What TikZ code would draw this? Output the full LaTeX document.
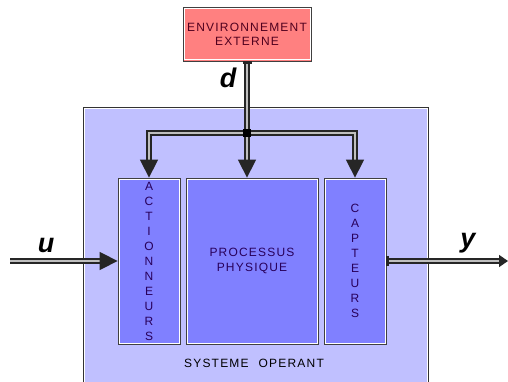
\documentclass[tikz,border=0pt]{standalone}
\usepackage{fontspec}
\setmainfont{Liberation Sans}
\newfontfamily\boxfont[LetterSpace=10]{Liberation Sans}
\usetikzlibrary{arrows.meta}

\definecolor{envred}{RGB}{255,128,128}
\definecolor{syslav}{RGB}{192,192,255}
\definecolor{blocblue}{RGB}{128,128,255}
\definecolor{txtblue}{RGB}{40,0,90}
\definecolor{txtred}{RGB}{80,0,30}

\begin{document}
\begin{tikzpicture}[
        x=1pt, y=-1pt,
        env/.style={rectangle, draw=black!75, line width=0.8pt, fill=envred, minimum width=128pt, minimum height=54pt, inner sep=0pt, align=center, text=txtred, font=\boxfont\fontsize{12}{14}\selectfont},
        sys/.style={rectangle, draw=black!80, line width=0.8pt, fill=syslav, minimum width=345pt, minimum height=293pt, inner sep=0pt},
        bloc/.style={rectangle, draw=black!75, line width=0.8pt, fill=blocblue, minimum height=166pt, inner sep=0pt, align=center, text=txtblue, font=\boxfont\fontsize{12}{15}\selectfont},
        shine/.style={white, line width=0.6pt},
        signal/.style={draw=black!85, line width=1.5pt, double=black!25, double distance=2.6pt},
        big_tip/.style={-{Triangle[length=18pt, width=18pt]}},
        var_label/.style={font=\bfseries\itshape\fontsize{27}{27}\selectfont, anchor=base}
    ]

        \clip (0,0) rectangle (508,382);

        % External environment
        \node[env] (env) at (247,34) {ENVIRONNEMENT\\EXTERNE};
        \draw[shine] ([shift={(1.6pt,1.6pt)}]env.south west) rectangle ([shift={(-1.6pt,-1.6pt)}]env.north east);

        % Operating system and its blocks
        \node[sys] (sys) at (255.5,253.5) {};
        \draw[shine] ([shift={(1.6pt,1.6pt)}]sys.south west) rectangle ([shift={(-1.6pt,-1.6pt)}]sys.north east);
        \node[bloc, minimum width=62pt] (act) at (149,261) {A\\C\\T\\I\\O\\N\\N\\E\\U\\R\\S};
        \node[bloc, minimum width=132pt] (proc) at (252,261) {PROCESSUS\\PHYSIQUE};
        \node[bloc, minimum width=62pt] (cap) at (355,261) {C\\A\\P\\T\\E\\U\\R\\S};
        \draw[shine] ([shift={(1.6pt,1.6pt)}]act.south west) rectangle ([shift={(-1.6pt,-1.6pt)}]act.north east);
        \draw[shine] ([shift={(1.6pt,1.6pt)}]proc.south west) rectangle ([shift={(-1.6pt,-1.6pt)}]proc.north east);
        \draw[shine] ([shift={(1.6pt,1.6pt)}]cap.south west) rectangle ([shift={(-1.6pt,-1.6pt)}]cap.north east);
        \node[font=\boxfont\fontsize{12}{14}\selectfont] (sys_label) at (254,363) {SYSTEME\hspace{10pt}OPERANT};

        % Disturbance d and its three branches
        \node[rectangle, fill=black, minimum size=8pt, inner sep=0pt] (junc) at (247,133) {};
        \draw[signal, {Rectangle[length=3pt, width=9pt]}-] (env) -- (junc);
        \draw[signal, big_tip] (junc) -| (act);
        \draw[signal, big_tip] (junc) -- (junc |- proc.north);
        \draw[signal, big_tip] (junc) -| (cap);

        % Input u and output y
        \coordinate (u_in) at (10,261);
        \coordinate (y_out) at (508,261);
        \draw[signal, big_tip] (u_in) -- (act);
        \draw[signal, {Rectangle[length=3pt, width=10pt]}-{Triangle[length=9pt, width=12pt]}] (cap) -- (y_out);

        % Labels
        \node[var_label] (d_label) at (228,88) {d};
        \node[var_label] (u_label) at (46,252) {u};
        \node[var_label] (y_label) at (468,247) {y};

    \end{tikzpicture}
\end{document}
